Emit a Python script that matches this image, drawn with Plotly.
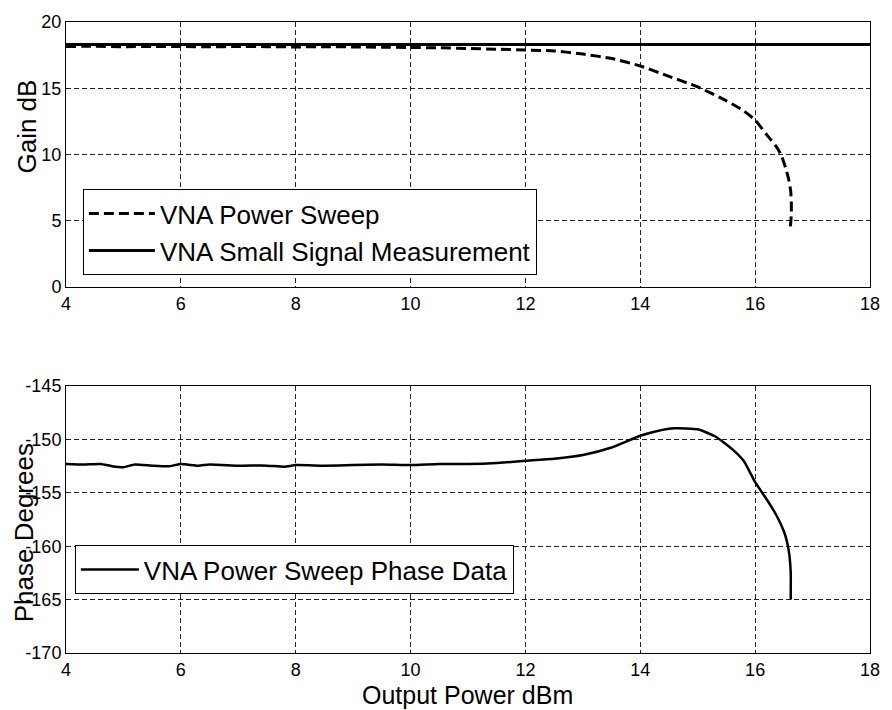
import plotly.graph_objects as go

# ---- Data ----
sweep_x = [4.0, 4.5, 5.0, 5.5, 6.0, 6.5, 7.0, 7.5, 8.0, 8.5, 9.0, 9.5, 10.0, 10.5,
           11.0, 11.5, 12.0, 12.5, 13.0, 13.5, 14.0, 14.5, 15.0, 15.5, 15.8, 16.0,
           16.2, 16.35, 16.45, 16.53, 16.58, 16.62, 16.63, 16.63, 16.61]
sweep_gain = [18.15, 18.17, 18.14, 18.16, 18.15, 18.13, 18.15, 18.14, 18.12, 18.14,
              18.12, 18.10, 18.08, 18.05, 18.0, 17.95, 17.88, 17.82, 17.58, 17.25,
              16.68, 15.9, 15.1, 14.05, 13.3, 12.6, 11.5, 10.7, 10.0, 9.0, 8.2,
              7.2, 6.3, 5.5, 4.3]

small_x = [4.0, 18.0]
small_gain = [18.3, 18.3]

phase_x = [4.0, 4.3, 4.6, 4.8, 5.0, 5.2, 5.5, 5.8, 6.0, 6.3, 6.5, 7.0, 7.5, 7.8,
           8.0, 8.5, 9.0, 9.5, 10.0, 10.5, 11.0, 11.5, 12.0, 12.5, 13.0, 13.5,
           14.0, 14.3, 14.6, 15.0, 15.3, 15.6, 15.8, 16.0, 16.2, 16.37, 16.5,
           16.56, 16.6, 16.62, 16.62, 16.62]
phase_deg = [-152.3, -152.35, -152.3, -152.5, -152.6, -152.35, -152.45, -152.5,
             -152.3, -152.45, -152.35, -152.45, -152.45, -152.55, -152.4, -152.45,
             -152.4, -152.35, -152.4, -152.3, -152.3, -152.2, -152.0, -151.8,
             -151.45, -150.75, -149.65, -149.2, -148.95, -149.05, -149.7, -150.9,
             -152.0, -154.0, -155.6, -157.1, -158.6, -159.7, -161.0, -162.5,
             -164.0, -165.0]

x_ticks = [4, 6, 8, 10, 12, 14, 16, 18]
gain_ticks = [0, 5, 10, 15, 20]
phase_ticks = [-170, -165, -160, -155, -150, -145]
phase_tick_text = ["-170", "-165", "-160", "-155", "-150", "-145"]

FONT = "Liberation Sans, Arial, sans-serif"

fig = go.Figure()
fig.add_trace(go.Scatter(x=sweep_x, y=sweep_gain, mode="lines", name="VNA Power Sweep",
                         line=dict(color="black", width=3, dash="10px,5px",
                                   shape="spline", smoothing=0.5),
                         xaxis="x", yaxis="y", legend="legend"))
fig.add_trace(go.Scatter(x=small_x, y=small_gain, mode="lines",
                         name="VNA Small Signal Measurement",
                         line=dict(color="black", width=3),
                         xaxis="x", yaxis="y", legend="legend"))
fig.add_trace(go.Scatter(x=phase_x, y=phase_deg, mode="lines",
                         name="VNA Power Sweep Phase Data",
                         line=dict(color="black", width=2.5, shape="spline", smoothing=0.5),
                         xaxis="x2", yaxis="y2", legend="legend2"))

axis_common = dict(showline=True, linecolor="black", linewidth=1, mirror=True,
                   showgrid=True, gridcolor="#222", gridwidth=1, griddash="5px,3px",
                   zeroline=False, ticks="",
                   tickfont=dict(family=FONT, size=18, color="black"))

fig.update_layout(
    width=892, height=710,
    margin=dict(l=66, r=13, t=15, b=57),
    paper_bgcolor="white", plot_bgcolor="white",
    font=dict(family=FONT, color="black"),
    xaxis=dict(domain=[0, 1], range=[4, 18], tickvals=x_ticks, anchor="y", **axis_common),
    yaxis=dict(domain=[0.58, 1], range=[0, 20], tickvals=gain_ticks, anchor="x", **axis_common),
    xaxis2=dict(domain=[0, 1], range=[4, 18], tickvals=x_ticks, anchor="y2", **axis_common),
    yaxis2=dict(domain=[0, 0.423], range=[-170, -145], tickvals=phase_ticks,
                ticktext=phase_tick_text, anchor="x2", **axis_common),
    legend=dict(x=0.021, y=0.735, xanchor="left", yanchor="top",
                bordercolor="black", borderwidth=1, bgcolor="white",
                font=dict(family=FONT, size=26, color="black"),
                tracegroupgap=0, itemwidth=66),
    legend2=dict(x=0.011, y=0.171, xanchor="left", yanchor="top",
                 bordercolor="black", borderwidth=1, bgcolor="white",
                 font=dict(family=FONT, size=26, color="black"),
                 itemwidth=58),
    showlegend=True,
    annotations=[
        dict(text="Gain dB", xref="paper", yref="paper", x=-0.048, y=0.835,
             xanchor="center", yanchor="middle", textangle=-90, showarrow=False,
             font=dict(family=FONT, size=26, color="black")),
        dict(text="Phase Degrees", xref="paper", yref="paper", x=-0.052, y=0.19,
             xanchor="center", yanchor="middle", textangle=-90, showarrow=False,
             font=dict(family=FONT, size=26, color="black")),
        dict(text="Output Power dBm", xref="paper", yref="paper", x=0.499, y=-0.066,
             xanchor="center", yanchor="middle", showarrow=False,
             font=dict(family=FONT, size=25, color="black")),
    ],
)

fig.write_html("out.html")
